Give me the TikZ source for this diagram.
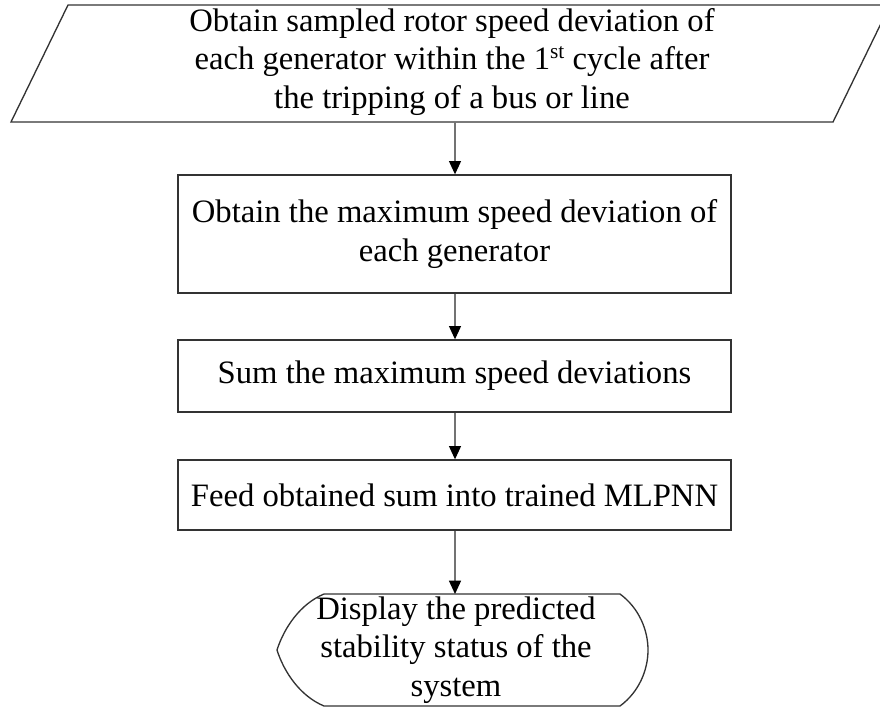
\documentclass[tikz,border=0pt]{standalone}
\usepackage{fontspec}
\setmainfont{Liberation Serif}
\usetikzlibrary{arrows.meta}

\tikzset{
  outline/.style={draw=black!80, line width=1pt},
  procbox/.style={outline, minimum width=414.75pt, inner sep=0pt, align=center},
  lbl/.style={align=center, inner sep=0pt},
  flow/.style={draw=black!55, line width=1pt,
    -{Triangle[length=10pt,width=9pt,color=black]}}
}

\begin{document}
\begin{tikzpicture}[x=0.75pt,y=-0.75pt,
  every node/.style={font=\fontsize{24.5}{28.9}\selectfont}]
  \useasboundingbox (0,0) rectangle (880,708);
  \clip (0,0) rectangle (880,708);

  % input / data block (parallelogram)
  \draw[outline] (68,5) -- (890,5) -- (833,122) -- (11,122) -- cycle;
  \node[lbl] (input) at (452,62)
    {Obtain sampled rotor speed deviation of\\
     each generator within the 1{\fontsize{16}{16}\selectfont\raisebox{0.55em}{st}} cycle after\\
     the tripping of a bus or line};
  \coordinate (inputB) at (455,122);

  % process steps
  \node[procbox, minimum height=88.5pt] (maxdev) at (454.5,234)
    {Obtain the maximum speed deviation of\\ each generator};
  \node[procbox, minimum height=54pt] (sum) at (454.5,376)
    {Sum the maximum speed deviations};
  \node[procbox, minimum height=52.5pt] (feed) at (454.5,495)
    {Feed obtained sum into trained MLPNN};

  % display block
  \draw[outline] (324,594) -- (620,594)
    .. controls (639,608) and (648,630) .. (648,650)
    .. controls (648,670) and (639,692) .. (620,706)
    -- (324,706)
    .. controls (300,696) and (284,672) .. (277,650)
    .. controls (284,628) and (300,604) .. (324,594) -- cycle;
  \node[lbl] (show) at (456,650)
    {Display the predicted\\ stability status of the\\ system};
  \coordinate (showT) at (455,594);

  % connectors
  \draw[flow] (inputB) -- (maxdev.north -| inputB);
  \draw[flow] (maxdev.south -| inputB) -- (sum.north -| inputB);
  \draw[flow] (sum.south -| inputB) -- (feed.north -| inputB);
  \draw[flow] (feed.south -| inputB) -- (showT);
\end{tikzpicture}
\end{document}
